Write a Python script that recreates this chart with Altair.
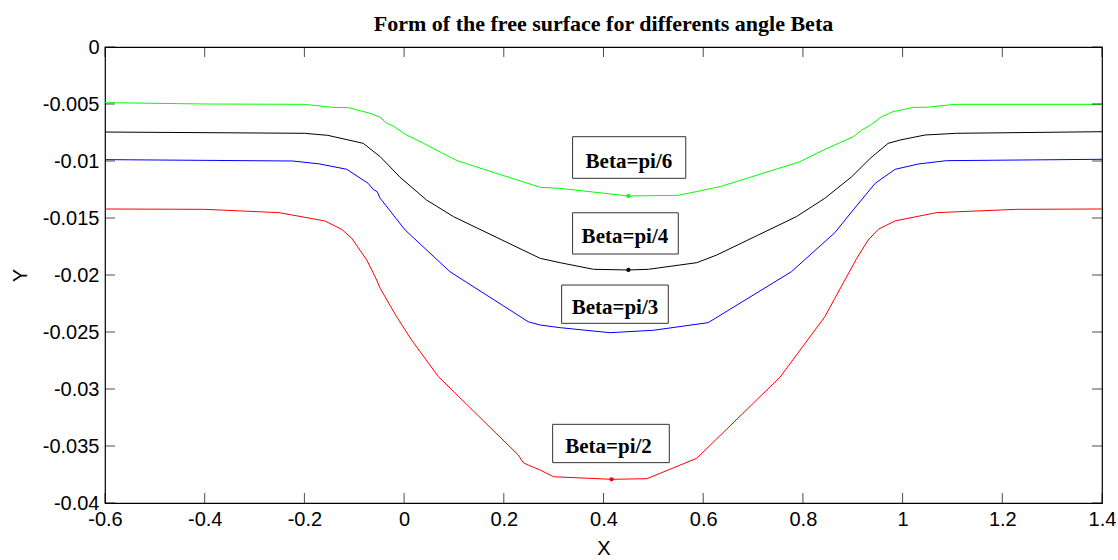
import altair as alt
import pandas as pd

# ---------------- data ----------------
green_x = [-0.6, -0.4, -0.2, -0.145, -0.112, -0.068, -0.048, -0.035, -0.022, 0.005, 0.039, 0.106,
           0.273, 0.313, 0.450, 0.550, 0.634, 0.794, 0.841, 0.901, 0.918, 0.938, 0.958, 0.981,
           1.022, 1.048, 1.105, 1.4]
green_y = [-0.00488, -0.00500, -0.00503, -0.00529, -0.00532, -0.00582, -0.00617, -0.00670, -0.00693,
           -0.00772, -0.00845, -0.00997, -0.01231, -0.01240, -0.01307, -0.01301, -0.01225, -0.01006,
           -0.00904, -0.00787, -0.00728, -0.00678, -0.00611, -0.00567, -0.00529, -0.00529, -0.00503,
           -0.00503]

black_x = [-0.6, -0.2, -0.153, -0.082, -0.048, -0.008, 0.045, 0.099, 0.273, 0.313, 0.380, 0.450,
           0.490, 0.587, 0.627, 0.787, 0.844, 0.898, 0.935, 0.971, 0.995, 1.045, 1.108, 1.4]
black_y = [-0.00746, -0.00757, -0.00775, -0.00845, -0.00962, -0.01143, -0.01342, -0.01488, -0.01854,
           -0.01892, -0.01950, -0.01956, -0.01950, -0.01892, -0.01825, -0.01488, -0.01327, -0.01138,
           -0.00977, -0.00845, -0.00816, -0.00772, -0.00757, -0.00743]

blue_x = [-0.6, -0.223, -0.169, -0.115, -0.072, -0.062, -0.054, -0.048, 0.002, 0.092, 0.249, 0.273,
          0.313, 0.413, 0.500, 0.610, 0.777, 0.864, 0.898, 0.945, 0.985, 1.032, 1.088, 1.4]
blue_y = [-0.00988, -0.01000, -0.01026, -0.01073, -0.01196, -0.01249, -0.01269, -0.01327, -0.01605,
          -0.01971, -0.02410, -0.02439, -0.02462, -0.02506, -0.02485, -0.02418, -0.01971, -0.01629,
          -0.01445, -0.01196, -0.01073, -0.01026, -0.00997, -0.00985]

red_x = [-0.6, -0.4, -0.251, -0.159, -0.125, -0.105, -0.075, -0.058, -0.048, -0.015, 0.015, 0.069,
         0.229, 0.239, 0.249, 0.273, 0.300, 0.416, 0.487, 0.587, 0.754, 0.844, 0.864, 0.908, 0.931,
         0.951, 0.985, 1.068, 1.229, 1.4]
red_y = [-0.01421, -0.01424, -0.01453, -0.01526, -0.01600, -0.01678, -0.01868, -0.02015, -0.02117,
         -0.02366, -0.02570, -0.02892, -0.03579, -0.03646, -0.03667, -0.03711, -0.03770, -0.03792,
         -0.03787, -0.03608, -0.02897, -0.02366, -0.02205, -0.01854, -0.01693, -0.01600, -0.01525,
         -0.01453, -0.01424, -0.01421]

series_names = ["pi/6", "pi/4", "pi/3", "pi/2"]
series_colors = ["#00ff00", "#000000", "#0000ff", "#ff0000"]

marker_series = ["pi/6", "pi/4", "pi/2"]
marker_x = [0.450, 0.450, 0.416]
marker_y = [-0.01307, -0.01956, -0.03792]

label_text = ["Beta=pi/6", "Beta=pi/4", "Beta=pi/3", "Beta=pi/2"]
label_x = [0.451, 0.443, 0.423, 0.410]
label_y = [-0.01009, -0.01667, -0.02289, -0.03511]
box_x1 = [0.338, 0.338, 0.316, 0.298]
box_x2 = [0.565, 0.550, 0.530, 0.532]
box_y1 = [-0.00787, -0.01454, -0.02088, -0.03310]
box_y2 = [-0.01152, -0.01816, -0.02424, -0.03646]

x_ticks = [-0.6, -0.4, -0.2, 0, 0.2, 0.4, 0.6, 0.8, 1, 1.2, 1.4]
y_ticks = [0, -0.005, -0.01, -0.015, -0.02, -0.025, -0.03, -0.035, -0.04]

title_text = "Form of the free surface for differents angle Beta"

# ---------------- build tables ----------------
rows = []
for name, xs, ys in zip(series_names, [green_x, black_x, blue_x, red_x], [green_y, black_y, blue_y, red_y]):
    for i, (a, b) in enumerate(zip(xs, ys)):
        rows.append({"series": name, "i": i, "x": a, "y": b})
lines_df = pd.DataFrame(rows)
markers_df = pd.DataFrame({"series": marker_series, "x": marker_x, "y": marker_y})
labels_df = pd.DataFrame({"text": label_text, "x": label_x, "y": label_y,
                          "x1": box_x1, "x2": box_x2, "y1": box_y1, "y2": box_y2})
xt_df = pd.DataFrame({"x": x_ticks})
yt_df = pd.DataFrame({"y": y_ticks})

W, H = 997, 456

x_scale = alt.Scale(domain=[-0.6, 1.4], nice=False, zero=False)
y_scale = alt.Scale(domain=[-0.04, 0], nice=False, zero=False)
color_scale = alt.Scale(domain=series_names, range=series_colors)

x_axis = alt.Axis(values=x_ticks, tickSize=0, domain=False, grid=False,
                  labelExpr="'' + datum.value", labelFont="Liberation Sans", labelFontSize=20,
                  labelColor="black", labelPadding=6, labelFlush=False, labelOverlap=False,
                  title="X", titleFont="Liberation Sans", titleFontSize=20, titleFontWeight="normal",
                  titleColor="black", titleX=W / 2, titleY=45, titleBaseline="middle")
y_axis = alt.Axis(values=y_ticks, tickSize=0, domain=False, grid=False,
                  labelExpr="'' + datum.value", labelFont="Liberation Sans", labelFontSize=20,
                  labelColor="black", labelPadding=6, labelFlush=False, labelOverlap=False,
                  title="Y", titleFont="Liberation Sans", titleFontSize=20, titleFontWeight="normal",
                  titleColor="black", titleX=-85, titleY=H / 2, titleBaseline="middle")


def X(field):
    return alt.X(field, scale=x_scale, axis=x_axis)


def Y(field):
    return alt.Y(field, scale=y_scale, axis=y_axis)


lines = alt.Chart(lines_df).mark_line(strokeWidth=1).encode(
    x=X("x:Q"), y=Y("y:Q"),
    color=alt.Color("series:N", scale=color_scale, legend=None),
    order="i:Q",
)

markers = alt.Chart(markers_df).mark_circle(size=18, opacity=1).encode(
    x=X("x:Q"), y=Y("y:Q"),
    color=alt.Color("series:N", scale=color_scale, legend=None),
)

boxes = alt.Chart(labels_df).mark_rect(fillOpacity=0, stroke="#333333", strokeWidth=1).encode(
    x=X("x1:Q"), x2="x2:Q", y=Y("y1:Q"), y2="y2:Q",
)

texts = alt.Chart(labels_df).mark_text(font="Liberation Serif", fontWeight="bold", fontSize=21,
                                       color="black", align="center", baseline="middle").encode(
    x=X("x:Q"), y=Y("y:Q"), text="text:N",
)

tick_len = 10
top_ticks = alt.Chart(xt_df).mark_tick(orient="vertical", size=tick_len, thickness=1, color="black").encode(
    x=X("x:Q"), y=alt.value(tick_len / 2))
bottom_ticks = alt.Chart(xt_df).mark_tick(orient="vertical", size=tick_len, thickness=1, color="black").encode(
    x=X("x:Q"), y=alt.value(H - tick_len / 2))
left_ticks = alt.Chart(yt_df).mark_tick(orient="horizontal", size=tick_len, thickness=1, color="black").encode(
    y=Y("y:Q"), x=alt.value(tick_len / 2))
right_ticks = alt.Chart(yt_df).mark_tick(orient="horizontal", size=tick_len, thickness=1, color="black").encode(
    y=Y("y:Q"), x=alt.value(W - tick_len / 2))

chart = alt.layer(
    lines, markers, boxes, texts, top_ticks, bottom_ticks, left_ticks, right_ticks
).properties(
    width=W, height=H,
    padding={"left": 105, "top": 47, "right": 16, "bottom": 57},
    autosize=alt.AutoSizeParams(type="none"),
    title=alt.TitleParams(title_text, font="Liberation Serif", fontSize=22, fontWeight="bold",
                          color="black", anchor="middle", frame="group", offset=1),
    background="white",
).configure_view(stroke="black", strokeWidth=1.2)

chart.save("out.html", embed_options={"renderer": "svg", "actions": False})
